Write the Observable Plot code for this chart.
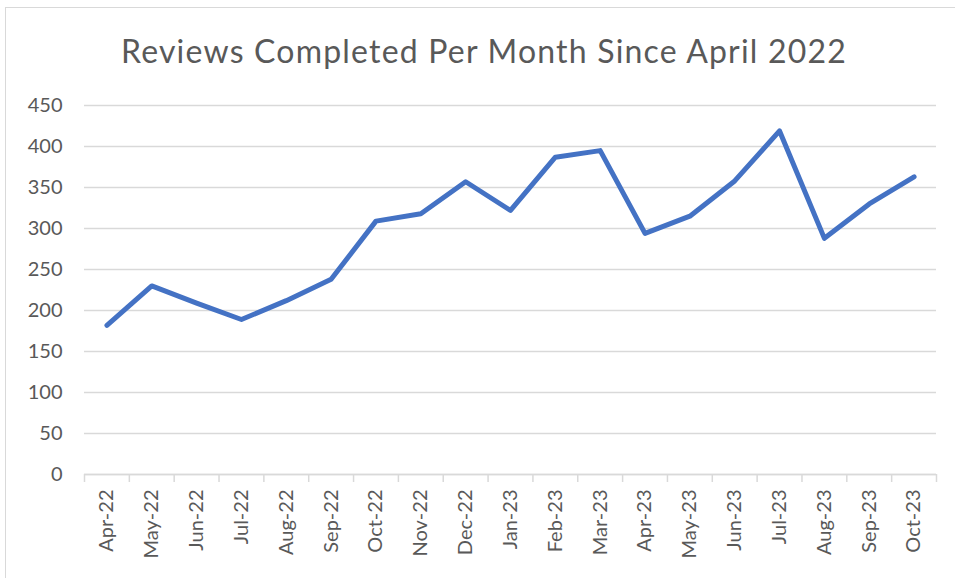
<!DOCTYPE html>
<html>
<head>
<meta charset="utf-8">
<script src="https://cdn.jsdelivr.net/npm/d3@7"></script>
<script src="https://cdn.jsdelivr.net/npm/@observablehq/plot@0.6"></script>
<style>
  html, body { margin: 0; padding: 0; background: #fff; }
  #frame { position: absolute; left: 5px; top: 7px; width: 955px; height: 575px; border: 1.5px solid #d9d9d9; box-sizing: border-box; }
  #title { position: absolute; left: 0; top: 31px; width: 968px; text-align: center; font-family: Lato, sans-serif; font-size: 32px; letter-spacing: 1.2px; color: #595959; white-space: nowrap; }
  #chart { position: absolute; left: 0; top: 90px; }
</style>
</head>
<body>
<div id="frame"></div>
<div id="title">Reviews Completed Per Month Since April 2022</div>
<div id="chart"></div>
<script>
const months = ["Apr-22","May-22","Jun-22","Jul-22","Aug-22","Sep-22","Oct-22","Nov-22","Dec-22",
  "Jan-23","Feb-23","Mar-23","Apr-23","May-23","Jun-23","Jul-23","Aug-23","Sep-23","Oct-23"];
const reviews = [182, 230, 209, 189, 212, 238, 309, 318, 357, 322, 387, 395, 294, 315, 358, 419, 288, 330, 363];
const yTicks = [0, 50, 100, 150, 200, 250, 300, 350, 400, 450];

const data = months.map((m, i) => ({i, month: m, value: reviews[i]}));
const idx = months.map((_, i) => i);
const boundaries = months.map((_, i) => i - 0.5).concat([months.length - 0.5]);

const chart = Plot.plot({
  width: 955,
  height: 488,
  marginLeft: 84,
  marginRight: 19,
  marginTop: 15,
  marginBottom: 104,
  style: {fontFamily: "Lato, sans-serif", fontSize: "20px", color: "#595959", background: "transparent"},
  x: {type: "linear", domain: [-0.5, months.length - 0.5]},
  y: {domain: [0, 450]},
  marks: [
    Plot.ruleY(yTicks, {stroke: "#d9d9d9", strokeWidth: 1.5}),
    Plot.axisY({ticks: yTicks, tickSize: 0, tickPadding: 22, label: null, fill: "#595959"}),
    Plot.axisX({ticks: idx, tickFormat: i => months[i], tickSize: 0, tickPadding: 15, tickRotate: -90, label: null, fill: "#595959"}),
    Plot.axisX({ticks: boundaries, tickFormat: () => "", tickSize: 8, stroke: "#d9d9d9", strokeWidth: 1.5, label: null}),
    Plot.ruleY([0], {stroke: "#d9d9d9", strokeWidth: 1.5}),
    Plot.line(data, {x: "i", y: "value", stroke: "#4472C4", strokeWidth: 5, strokeLinejoin: "round", strokeLinecap: "round"})
  ]
});
document.getElementById("chart").appendChild(chart);
</script>
</body>
</html>
